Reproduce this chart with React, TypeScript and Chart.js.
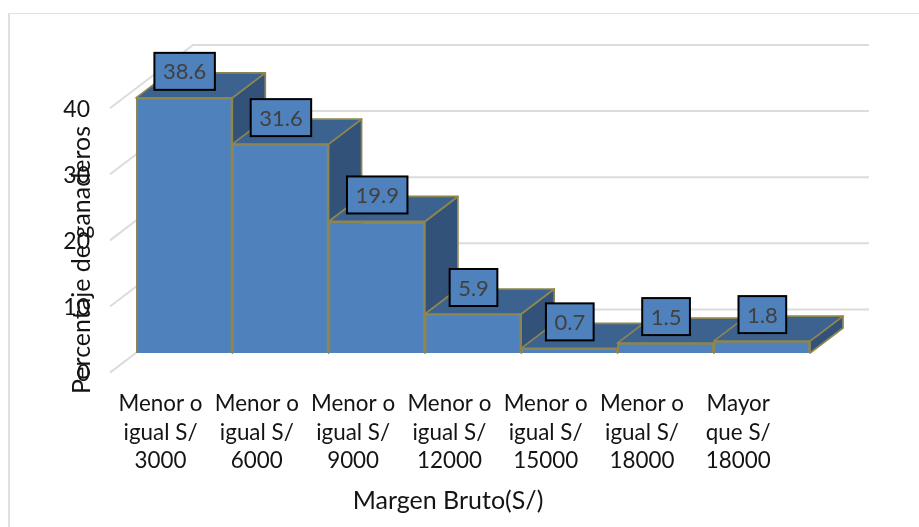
import React, { useEffect, useRef } from "react";
import { Chart, registerables } from "chart.js";

Chart.register(...registerables);

const categories = [
  ["Menor o", "igual S/", "3000"],
  ["Menor o", "igual S/", "6000"],
  ["Menor o", "igual S/", "9000"],
  ["Menor o", "igual S/", "12000"],
  ["Menor o", "igual S/", "15000"],
  ["Menor o", "igual S/", "18000"],
  ["Mayor", "que S/", "18000"],
];
const percentages = [38.6, 31.6, 19.9, 5.9, 0.7, 1.5, 1.8];
const yTicks = [0, 10, 20, 30, 40];
const yTitle = "Percentaje de ganaderos";
const xTitle = "Margen Bruto(S/)";

const FONT = "Lato, Carlito, sans-serif";
const TEXT = "#141414";
const FRONT = "#4f81bd";
const TOP = "#3c6290";
const SIDE = "#335279";
const EDGE = "#8e8650";
const GRID = "#dcdcdc";

// 3D projection offsets
const DEPTH_X = 33;
const DEPTH_Y = -25;
const WALL_X = 57;
const WALL_Y = -43.6;
const FRONT_X = -26;
const FRONT_Y = 19.6;

const chart3d = {
  id: "chart3d",
  beforeDatasetsDraw(chart: any) {
    const { ctx } = chart;
    const xs = chart.scales.x;
    const ys = chart.scales.y;
    ctx.save();
    // frame
    ctx.strokeStyle = "#e0e0e0";
    ctx.lineWidth = 2;
    ctx.beginPath();
    ctx.moveTo(9, 527);
    ctx.lineTo(9, 13);
    ctx.stroke();
    ctx.lineWidth = 1.2;
    ctx.beginPath();
    ctx.moveTo(8, 13.5);
    ctx.lineTo(919, 13.5);
    ctx.stroke();
    // walls
    ctx.strokeStyle = GRID;
    ctx.lineWidth = 2;
    yTicks.forEach((v) => {
      const y = ys.getPixelForValue(v);
      ctx.beginPath();
      ctx.moveTo(xs.left + FRONT_X, y + FRONT_Y);
      ctx.lineTo(xs.left + WALL_X, y + WALL_Y);
      ctx.lineTo(xs.right + WALL_X + 2, y + WALL_Y);
      ctx.stroke();
    });
    // bar depth
    ctx.strokeStyle = EDGE;
    ctx.lineWidth = 1.7;
    ctx.lineJoin = "round";
    const meta = chart.getDatasetMeta(0);
    meta.data.forEach((bar: any) => {
      const l = bar.x - bar.width / 2;
      const r = bar.x + bar.width / 2;
      const t = bar.y;
      const b = bar.base;
      ctx.fillStyle = SIDE;
      ctx.beginPath();
      ctx.moveTo(r, t);
      ctx.lineTo(r + DEPTH_X, t + DEPTH_Y);
      ctx.lineTo(r + DEPTH_X, b + DEPTH_Y);
      ctx.lineTo(r, b);
      ctx.closePath();
      ctx.fill();
      ctx.stroke();
      ctx.fillStyle = TOP;
      ctx.beginPath();
      ctx.moveTo(l, t);
      ctx.lineTo(l + DEPTH_X, t + DEPTH_Y);
      ctx.lineTo(r + DEPTH_X, t + DEPTH_Y);
      ctx.lineTo(r, t);
      ctx.closePath();
      ctx.fill();
      ctx.stroke();
    });
    ctx.restore();
  },
  afterDatasetsDraw(chart: any) {
    const { ctx } = chart;
    ctx.save();
    // data labels
    ctx.font = `22px ${FONT}`;
    ctx.textAlign = "center";
    ctx.textBaseline = "middle";
    const meta = chart.getDatasetMeta(0);
    meta.data.forEach((bar: any, i: number) => {
      const text = percentages[i].toFixed(1);
      const w = ctx.measureText(text).width + 17;
      const h = 37;
      const cx = bar.x + 0.5;
      const cy = bar.y - 26.5;
      ctx.fillStyle = FRONT;
      ctx.fillRect(cx - w / 2, cy - h / 2, w, h);
      ctx.strokeStyle = "#000000";
      ctx.lineWidth = 2;
      ctx.strokeRect(cx - w / 2, cy - h / 2, w, h);
      ctx.fillStyle = "#404040";
      ctx.fillText(text, cx, cy + 1);
    });
    // axis titles
    ctx.fillStyle = TEXT;
    ctx.font = `25px ${FONT}`;
    ctx.fillText(xTitle, 448, 501);
    ctx.save();
    ctx.translate(82, 260);
    ctx.rotate(-Math.PI / 2);
    ctx.fillText(yTitle, 0, 0);
    ctx.restore();
    ctx.restore();
  },
};

export default function App() {
  const ref = useRef<HTMLCanvasElement>(null);
  useEffect(() => {
    const chart = new Chart(ref.current as HTMLCanvasElement, {
      type: "bar",
      data: {
        labels: categories,
        datasets: [
          {
            label: "Percentaje de ganaderos",
            data: percentages,
            backgroundColor: FRONT,
            borderColor: EDGE,
            borderWidth: 2,
            barPercentage: 1,
            categoryPercentage: 1,
          },
        ],
      },
      options: {
        responsive: false,
        animation: false,
        layout: { padding: { left: 0, top: 88.6, right: 109, bottom: 0 } },
        plugins: { legend: { display: false }, tooltip: { enabled: false } },
        scales: {
          x: {
            afterFit: (s: any) => {
              s.height = 174;
            },
            grid: { display: false, drawTicks: false },
            border: { display: false },
            ticks: {
              autoSkip: false,
              maxRotation: 0,
              minRotation: 0,
              labelOffset: -23.6,
              padding: 36,
              color: TEXT,
              font: { family: FONT, size: 22.4, lineHeight: 1.29 },
            },
          },
          y: {
            min: 0,
            max: 40,
            afterFit: (s: any) => {
              s.width = 136;
            },
            grid: { display: false, drawTicks: false },
            border: { display: false },
            ticks: {
              stepSize: 10,
              labelOffset: 20.6,
              padding: 46,
              color: TEXT,
              font: { family: FONT, size: 23 },
            },
          },
        },
      },
      plugins: [chart3d],
    } as any);
    return () => chart.destroy();
  }, []);
  return (
    <div style={{ position: "absolute", left: 0, top: 0, width: 919, height: 527, background: "#fff" }}>
      <canvas ref={ref} width={919} height={527} style={{ display: "block" }} />
    </div>
  );
}
